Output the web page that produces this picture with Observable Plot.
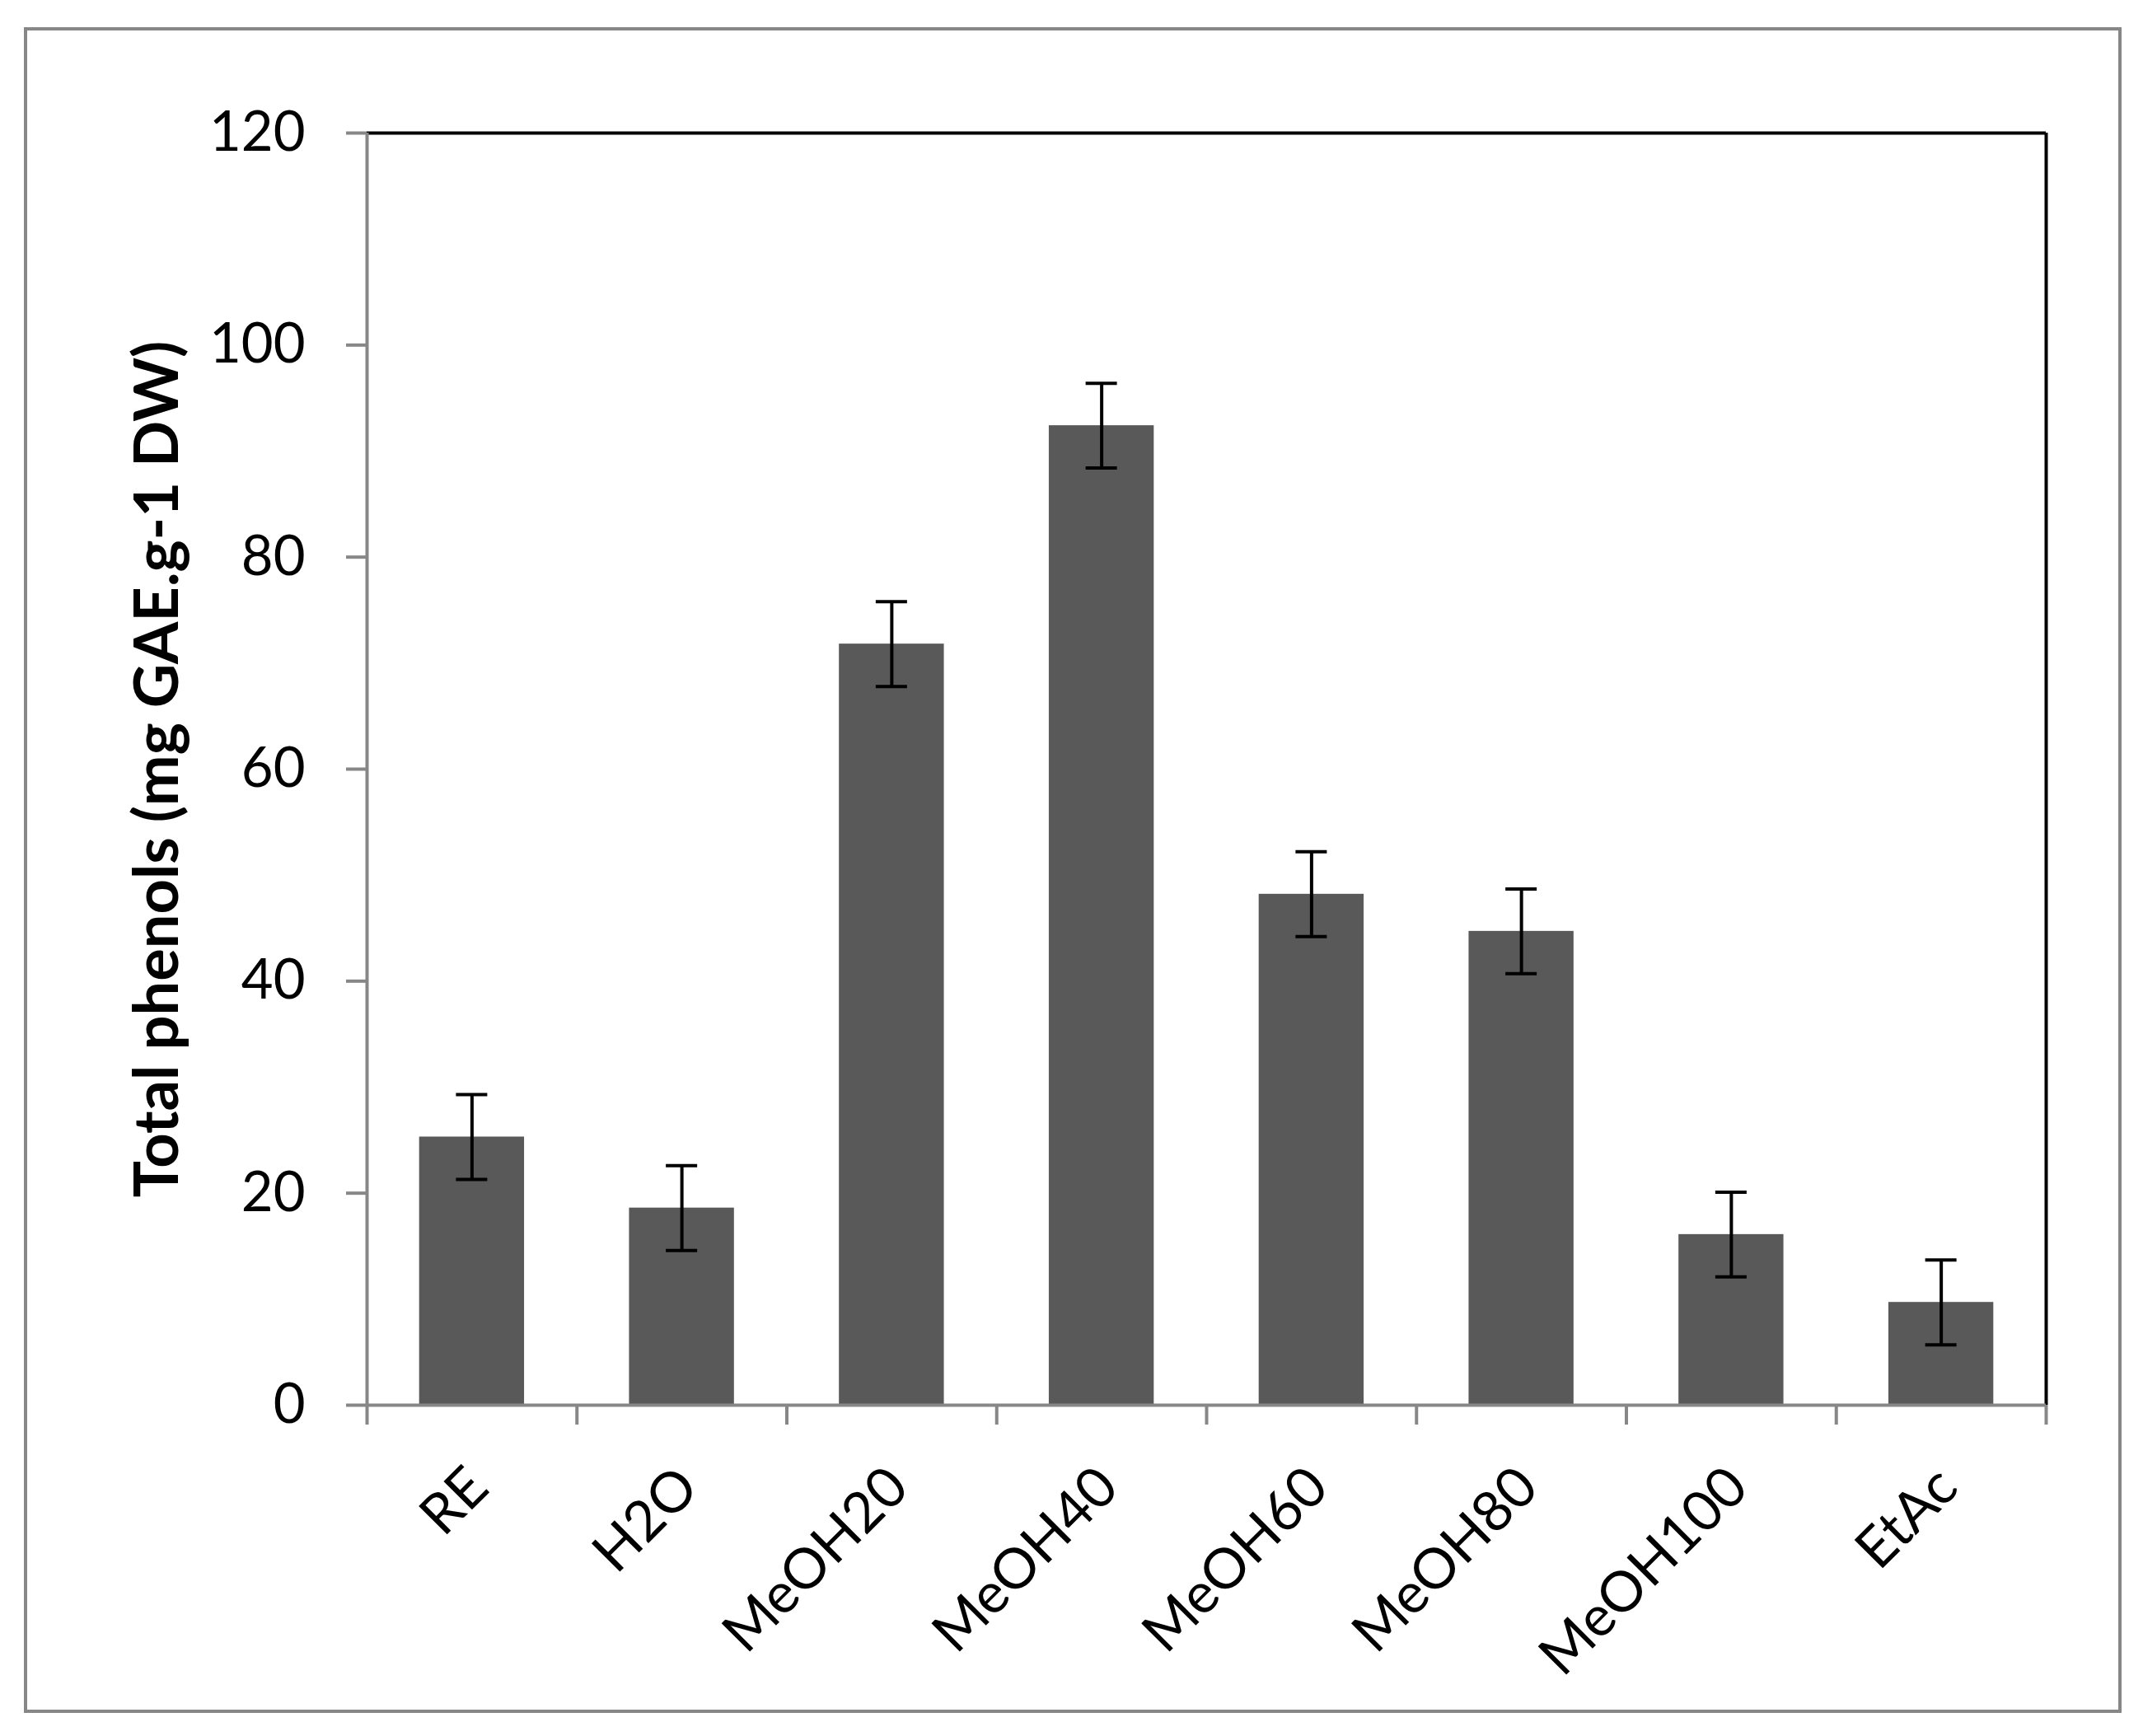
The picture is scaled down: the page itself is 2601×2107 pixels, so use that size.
<!DOCTYPE html>
<html>
<head>
<meta charset="utf-8">
<script src="https://cdn.jsdelivr.net/npm/d3@7"></script>
<script src="https://cdn.jsdelivr.net/npm/@observablehq/plot@0.6"></script>
<style>
  html, body { margin: 0; padding: 0; background: #fff; }
  #wrap { position: relative; width: 2601px; height: 2107px; }
  #border { position: absolute; left: 29px; top: 33px; width: 2538px; height: 2038px; border: 4px solid #878787; pointer-events: none; }
</style>
</head>
<body>
<div id="wrap"><div id="border"></div></div>
<script>
const categories = ["RE", "H2O", "MeOH20", "MeOH40", "MeOH60", "MeOH80", "MeOH100", "EtAc"];
const values = [25.3, 18.6, 71.8, 92.4, 48.2, 44.7, 16.1, 9.7];
const errors = [4.0, 4.0, 4.0, 4.0, 4.0, 4.0, 4.0, 4.0];
const yTicks = [0, 20, 40, 60, 80, 100, 120];
const yLabel = "Total phenols (mg GAE.g-1 DW)";

const data = categories.map((c, i) => ({c, i, v: values[i], e: errors[i]}));
const boundaries = d3.range(categories.length + 1);
const yMax = yTicks[yTicks.length - 1];
const gray = "#878787";
const font = "Lato, 'Open Sans', sans-serif";

const chart = Plot.plot({
  width: 2601,
  height: 2107,
  marginLeft: 445,
  marginRight: 118,
  marginTop: 161,
  marginBottom: 402,
  style: {fontFamily: font, background: "transparent", color: "black"},
  x: {type: "linear", domain: [0, categories.length], axis: null},
  y: {domain: [0, yMax]},
  marks: [
    Plot.rectY(data, {x1: d => d.i + 0.25, x2: d => d.i + 0.75, y1: 0, y2: d => d.v, fill: "#595959"}),
    Plot.ruleX(data, {x: d => d.i + 0.5, y1: d => d.v - d.e, y2: d => d.v + d.e, stroke: "black", strokeWidth: 4}),
    Plot.ruleY(data, {x1: d => d.i + 0.5, x2: d => d.i + 0.5, y: d => d.v + d.e, insetLeft: -19, insetRight: -19, stroke: "black", strokeWidth: 4}),
    Plot.ruleY(data, {x1: d => d.i + 0.5, x2: d => d.i + 0.5, y: d => d.v - d.e, insetLeft: -19, insetRight: -19, stroke: "black", strokeWidth: 4}),
    Plot.ruleY([yMax], {stroke: "black", strokeWidth: 4}),
    Plot.ruleX([categories.length], {stroke: "black", strokeWidth: 4}),
    Plot.ruleY([0], {stroke: gray, strokeWidth: 4}),
    Plot.ruleX([0], {stroke: gray, strokeWidth: 4}),
    Plot.axisY(yTicks, {tickSize: 25, tickPadding: 50, stroke: gray, strokeWidth: 4, fontSize: 67, fill: "black", label: null}),
    Plot.ruleX(boundaries, {y1: 0, y2: 0, insetBottom: -24, stroke: gray, strokeWidth: 4}),
    Plot.text(data, {x: d => d.i + 0.5, y: 0, text: "c", rotate: -45, textAnchor: "end", dx: 8, dy: 88, fontSize: 68, fill: "black"}),
    Plot.text([yLabel], {frameAnchor: "left", textAnchor: "middle", rotate: -90, dx: -253, fontWeight: "bold", fontSize: 74, fill: "black"})
  ]
});
document.getElementById("wrap").prepend(chart);
</script>
</body>
</html>
